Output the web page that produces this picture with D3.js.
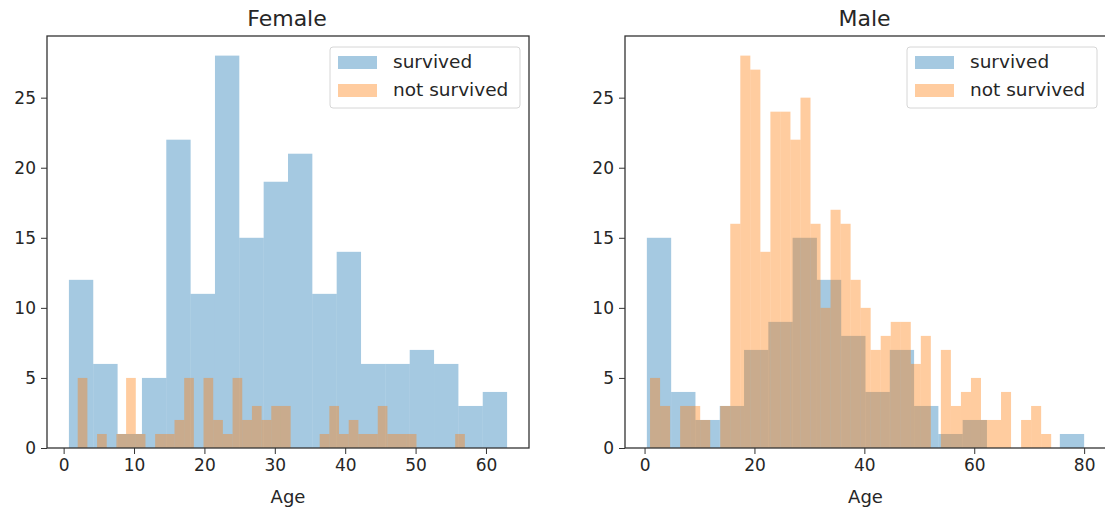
<!DOCTYPE html>
<html>
<head>
<meta charset="utf-8">
<title></title>
<style type="text/css">
body { margin: 0; background: #fff; }
text { font-family: "DejaVu Sans", sans-serif; fill: #262626; }
.tick text { font-size: 17px; }
.tick line { stroke: #333; }
.domain { display: none; }
</style>
</head>
<body>
<svg width="1105" height="510"></svg>
<script src="https://d3js.org/d3.v7.min.js"></script>
<script type="text/javascript">
// histogram counts; bins spread evenly across each range
var femaleSurvivedRange = [0.75, 63];
var femaleSurvived = [12, 6, 1, 5, 22, 11, 28, 15, 19, 21, 11, 14, 6, 6, 7, 6, 3, 4];
var femaleNotSurvivedRange = [2, 57];
var femaleNotSurvived = [5, 0, 1, 0, 1, 5, 1, 0, 1, 1, 2, 5, 0, 5, 2, 1, 5, 2, 3, 2,
    3, 3, 0, 0, 0, 1, 3, 1, 2, 1, 1, 3, 1, 1, 1, 0, 0, 0, 0, 1];
var maleSurvivedRange = [0.42, 80];
var maleSurvived = [15, 4, 2, 3, 7, 9, 15, 12, 8, 4, 7, 3, 1, 2, 0, 0, 0, 1];
var maleNotSurvivedRange = [1, 74];
var maleNotSurvived = [5, 3, 0, 3, 3, 2, 0, 3, 16, 28, 27, 14, 24, 24, 22, 25, 16, 10, 17, 16,
    12, 10, 7, 8, 9, 9, 6, 8, 0, 7, 3, 4, 5, 2, 2, 4, 0, 2, 3, 1];

var femaleTicks = [0, 10, 20, 30, 40, 50, 60];
var maleTicks = [0, 20, 40, 60, 80];
var yTicks = [0, 5, 10, 15, 20, 25];
var seriesNames = ["survived", "not survived"];
var colors = ["#1f77b4", "#ff7f0e"];

var svg = d3.select("svg");
var plotTop = 36, plotBottom = 448;

function toBins(range, counts) {
    var w = (range[1] - range[0]) / counts.length;
    return counts.map(function(c, i) {
        return { x0: range[0] + i * w, x1: range[0] + (i + 1) * w, n: c };
    });
}

function panel(opts) {
    var g = svg.append("g");
    var lo = Math.min(opts.ranges[0][0], opts.ranges[1][0]),
        hi = Math.max(opts.ranges[0][1], opts.ranges[1][1]),
        pad = (hi - lo) * 0.05;
    var ymax = d3.max(opts.counts.map(function(c) { return d3.max(c); })) * 1.05;

    var x = d3.scaleLinear().domain([lo - pad, hi + pad]).range([opts.left, opts.right]);
    var y = d3.scaleLinear().domain([0, ymax]).range([plotBottom, plotTop]);

    opts.counts.forEach(function(counts, s) {
        g.append("g").selectAll("rect")
            .data(toBins(opts.ranges[s], counts).filter(function(d) { return d.n > 0; }))
            .enter().append("rect")
            .attr("x", function(d) { return x(d.x0); })
            .attr("width", function(d) { return x(d.x1) - x(d.x0); })
            .attr("y", function(d) { return y(d.n); })
            .attr("height", function(d) { return y(0) - y(d.n); })
            .attr("fill", colors[s])
            .attr("fill-opacity", 0.4);
    });

    g.append("g")
        .attr("class", "axis")
        .attr("transform", "translate(0," + plotBottom + ")")
        .call(d3.axisBottom(x).tickValues(opts.ticks).tickSize(6).tickPadding(5));
    g.append("g")
        .attr("class", "axis")
        .attr("transform", "translate(" + opts.left + ",0)")
        .call(d3.axisLeft(y).tickValues(yTicks).tickSize(6).tickPadding(5));

    // frame
    g.append("rect")
        .attr("x", opts.left).attr("y", plotTop)
        .attr("width", opts.right - opts.left).attr("height", plotBottom - plotTop)
        .attr("fill", "none").attr("stroke", "#333").attr("stroke-width", 1.3);

    g.append("text")
        .attr("x", (opts.left + opts.right) / 2 - 1).attr("y", 26)
        .attr("text-anchor", "middle").style("font-size", "22px")
        .text(opts.title);
    g.append("text")
        .attr("x", (opts.left + opts.right) / 2).attr("y", 503)
        .attr("text-anchor", "middle").style("font-size", "18px")
        .text("Age");

    // legend
    var lx = opts.right - 199, ly = 47;
    g.append("rect")
        .attr("x", lx).attr("y", ly).attr("width", 190).attr("height", 61)
        .attr("rx", 3).attr("fill", "#fff").attr("fill-opacity", 0.8)
        .attr("stroke", "#d6d6d6");
    seriesNames.forEach(function(name, i) {
        g.append("rect")
            .attr("x", lx + 8).attr("y", ly + 9 + i * 28)
            .attr("width", 39).attr("height", 13)
            .attr("fill", colors[i]).attr("fill-opacity", 0.4);
        g.append("text")
            .attr("x", lx + 63).attr("y", ly + 21 + i * 28)
            .style("font-size", "18.5px")
            .text(name);
    });
}

panel({
    title: "Female", left: 47, right: 529,
    ranges: [femaleSurvivedRange, femaleNotSurvivedRange],
    counts: [femaleSurvived, femaleNotSurvived],
    ticks: femaleTicks
});
panel({
    title: "Male", left: 625, right: 1106,
    ranges: [maleSurvivedRange, maleNotSurvivedRange],
    counts: [maleSurvived, maleNotSurvived],
    ticks: maleTicks
});
</script>
</body>
</html>
